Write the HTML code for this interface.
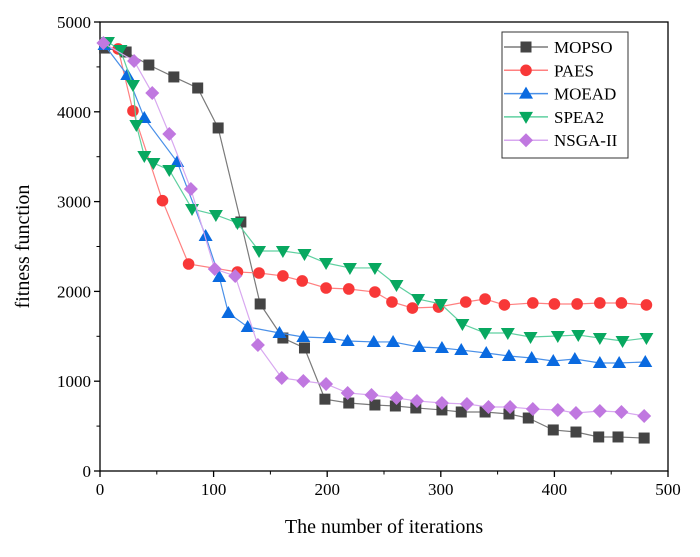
<!DOCTYPE html>
<html><head><meta charset="utf-8"><style>
body{margin:0;background:#fff}
svg{display:block;font-family:"Liberation Serif",serif}
</style></head><body>
<svg id="c" width="700" height="557"></svg>
<script>
const xTicks=[0,100,200,300,400,500];
const yTicks=[0,1000,2000,3000,4000,5000];
const names=["MOPSO","PAES","MOEAD","SPEA2","NSGA-II"];
const mopsoX=[4,23,43,65,86,104,124,141,161,180,198,219,242,260,278,301,318,339,360,377,399,419,439,456,479];
const mopsoY=[4710,4666,4521,4388,4265,3820,2773,1860,1481,1370,800,757,735,724,702,680,657,657,635,590,457,434,379,379,367];
const paesX=[16,29,55,78,121,140,161,178,199,219,242,257,275,298,322,339,356,381,400,420,440,459,481];
const paesY=[4700,4010,3010,2305,2216,2205,2172,2116,2038,2027,1993,1882,1815,1826,1882,1915,1849,1871,1860,1860,1871,1871,1849];
const moeadX=[4,24,39,68,93,105,113,130,158,179,202,218,241,258,281,301,318,340,360,380,399,418,440,457,480];
const moeadY=[4744,4410,3931,3441,2617,2160,1759,1604,1537,1492,1481,1448,1437,1437,1381,1370,1347,1314,1281,1258,1225,1247,1203,1203,1214];
const spea2X=[7,18,29,32,39,47,61,81,102,121,140,161,180,199,220,242,261,280,300,319,339,359,379,403,421,440,460,481];
const spea2Y=[4777,4688,4298,3853,3508,3430,3352,2918,2851,2762,2450,2450,2416,2316,2261,2261,2071,1915,1860,1637,1537,1537,1492,1503,1514,1481,1448,1481];
const nsgaX=[3,30,46,61,80,101,119,139,160,179,199,218,239,261,279,301,323,342,361,381,403,419,440,459,479];
const nsgaY=[4766,4566,4209,3753,3140,2249,2172,1403,1036,1002,969,869,846,813,780,757,746,713,713,690,679,646,668,657,612];
const seriesX=[mopsoX,paesX,moeadX,spea2X,nsgaX];
const seriesY=[mopsoY,paesY,moeadY,spea2Y,nsgaY];
const lineCol=["#7a7a7a","#ff8080","#4a90e8","#5fd0a0","#d8a8f0"];
const markCol=["#444444","#f83838","#0a6ae0","#08a860","#c078e0"];
const L=100,R=668,T=22,B=471;
const sx=v=>L+(v-0)/500*(R-L);
const sy=v=>B-(v/5000)*(B-T);
const ns="http://www.w3.org/2000/svg";
const svg=document.getElementById('c');
function mk(t,a,p){const e=document.createElementNS(ns,t);for(const k in a)e.setAttribute(k,a[k]);(p||svg).appendChild(e);return e;}
function marker(i,x,y,g){
  const c=markCol[i];let e;
  if(i==0)e=mk('rect',{x:x-5.5,y:y-5.5,width:11,height:11,fill:c},g);
  else if(i==1)e=mk('circle',{cx:x,cy:y,r:5.8,fill:c},g);
  else if(i==2)e=mk('polygon',{points:`${x},${y-7} ${x-7},${y+5} ${x+7},${y+5}`,fill:c},g);
  else if(i==3)e=mk('polygon',{points:`${x},${y+7} ${x-7},${y-5} ${x+7},${y-5}`,fill:c},g);
  else e=mk('polygon',{points:`${x},${y-7} ${x+7},${y} ${x},${y+7} ${x-7},${y}`,fill:c},g);
  return e;
}
const fr=mk('rect',{x:L,y:T,width:R-L,height:B-T,fill:'none',stroke:'#000','stroke-width':1.3});

xTicks.forEach(v=>{
  const x=sx(v);
  mk('line',{x1:x,y1:B,x2:x,y2:B+6,stroke:'#000','stroke-width':1.3});
  if(v<500)mk('line',{x1:sx(v+50),y1:B,x2:sx(v+50),y2:B+3.5,stroke:'#000','stroke-width':1});
  const t=mk('text',{x:x,y:B+24,'text-anchor':'middle','font-size':17});t.textContent=v;
  
});
yTicks.forEach(v=>{
  const y=sy(v);
  mk('line',{x1:L,y1:y,x2:L-6,y2:y,stroke:'#000','stroke-width':1.3});
  if(v<5000)mk('line',{x1:L,y1:sy(v+500),x2:L-3.5,y2:sy(v+500),stroke:'#000','stroke-width':1});
  const t=mk('text',{x:L-9,y:y+6,'text-anchor':'end','font-size':17});t.textContent=v;
  
});
const xt=mk('text',{x:(L+R)/2,y:533,'text-anchor':'middle','font-size':20});xt.textContent='The number of iterations';

const yt=mk('text',{x:0,y:0,'text-anchor':'middle','font-size':20,transform:`translate(29,${(T+B)/2}) rotate(-90)`});yt.textContent='fitness function';

seriesX.forEach((xs,i)=>{
  const g=mk('g',{});
  
  
  const pts=xs.map((x,j)=>sx(x)+','+sy(seriesY[i][j])).join(' ');
  mk('polyline',{points:pts,fill:'none',stroke:lineCol[i],'stroke-width':1.2},g);
  xs.forEach((x,j)=>{const m=marker(i,sx(x),sy(seriesY[i][j]),g);
    
    });
});
const lg=mk('g',{});

mk('rect',{x:502,y:32,width:126,height:126,fill:'#fff',stroke:'#333','stroke-width':1},lg);
names.forEach((n,i)=>{
  const y=47+i*23.3;
  const e=mk('g',{},lg);
  
  mk('line',{x1:504,y1:y,x2:548,y2:y,stroke:lineCol[i],'stroke-width':1.5},e);
  marker(i,526,y,e);
  const t=mk('text',{x:554,y:y+6,'font-size':17},e);t.textContent=n;
});
</script>
</body></html>
